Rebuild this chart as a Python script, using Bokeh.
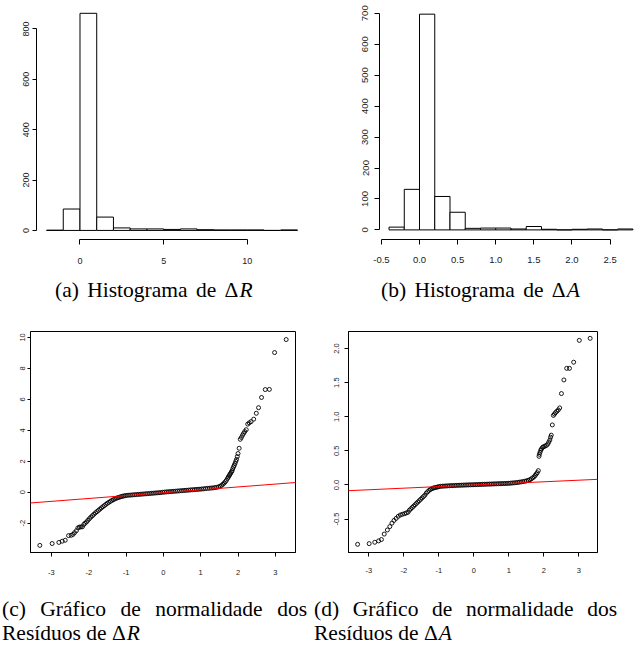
from bokeh.plotting import figure
from bokeh.models import FixedTicker, Slope, Div, Range1d
from bokeh.layouts import column, row
from bokeh.embed import file_html
from bokeh.resources import INLINE

# ---------------- data ----------------
# (a) histogram of Delta R
hist_r_left = [-2, -1, 0, 1, 2, 3, 4, 5, 6, 7, 8, 9, 10, 11, 12]
hist_r_right = [-1, 0, 1, 2, 3, 4, 5, 6, 7, 8, 9, 10, 11, 12, 13]
hist_r_counts = [1, 85, 862, 53, 10, 6, 6, 4, 6, 3, 2, 2, 2, 0, 2]
hist_r_xticks = [0, 5, 10]
hist_r_xlabels = ["0", "5", "10"]
hist_r_yticks = [0, 200, 400, 600, 800]
hist_r_ylabels = ["0", "200", "400", "600", "800"]

# (b) histogram of Delta A
hist_a_left = [-0.4, -0.2, 0.0, 0.2, 0.4, 0.6, 0.8, 1.0, 1.2, 1.4, 1.6, 1.8, 2.0, 2.2, 2.4, 2.6]
hist_a_right = [-0.2, 0.0, 0.2, 0.4, 0.6, 0.8, 1.0, 1.2, 1.4, 1.6, 1.8, 2.0, 2.2, 2.4, 2.6, 2.8]
hist_a_counts = [9, 131, 697, 108, 57, 5, 6, 6, 3, 11, 2, 0, 2, 3, 0, 3]
hist_a_xticks = [-0.5, 0.0, 0.5, 1.0, 1.5, 2.0, 2.5]
hist_a_xlabels = ["-0.5", "0.0", "0.5", "1.0", "1.5", "2.0", "2.5"]
hist_a_yticks = [0, 100, 200, 300, 400, 500, 600, 700]
hist_a_ylabels = ["0", "100", "200", "300", "400", "500", "600", "700"]

# (c) normal QQ plot of residuals of Delta R
qq_r_theo = [
    -3.31, -2.98, -2.80, -2.71, -2.63, -2.54, -2.47, -2.42, -2.38, -2.33, -2.29, -2.25,
    -2.21, -2.17, -2.13, -2.10, -2.06, -2.02, -1.98, -1.94, -1.90, -1.86, -1.82, -1.78,
    -1.74, -1.70, -1.66, -1.62, -1.58, -1.54, -1.50, -1.46, -1.42, -1.38, -1.34, -1.30,
    -1.26, -1.22, -1.18, -1.14, -1.10, -1.06, -1.02, -0.97, -0.92, -0.87, -0.82, -0.77,
    -0.72, -0.67, -0.62, -0.57, -0.52, -0.47, -0.42, -0.37, -0.32, -0.27, -0.22, -0.17,
    -0.12, -0.07, -0.02, 0.03, 0.08, 0.13, 0.18, 0.23, 0.28, 0.33, 0.38, 0.43, 0.48,
    0.53, 0.58, 0.63, 0.68, 0.73, 0.78, 0.83, 0.88, 0.93, 0.98, 1.03, 1.08, 1.13, 1.18,
    1.23, 1.28, 1.33, 1.38, 1.43, 1.48, 1.52, 1.56, 1.60, 1.63, 1.66, 1.69, 1.72, 1.74,
    1.76, 1.78, 1.80, 1.82, 1.84, 1.86, 1.88, 1.90, 1.92, 1.94, 1.96, 1.98, 2.00, 2.03,
    2.06, 2.09, 2.12, 2.15, 2.18, 2.22, 2.26, 2.30, 2.35, 2.42, 2.49, 2.55, 2.63, 2.73,
    2.84, 2.98, 3.29,
]
qq_r_sample = [
    -3.43, -3.31, -3.24, -3.16, -3.10, -2.80, -2.78, -2.72, -2.61, -2.48, -2.30, -2.25,
    -2.24, -2.23, -2.08, -2.00, -1.92, -1.81, -1.70, -1.60, -1.51, -1.42, -1.33, -1.25,
    -1.17, -1.09, -1.01, -0.93, -0.86, -0.78, -0.71, -0.65, -0.59, -0.53, -0.48, -0.43,
    -0.39, -0.35, -0.32, -0.29, -0.26, -0.24, -0.22, -0.20, -0.19, -0.18, -0.17, -0.16,
    -0.15, -0.14, -0.13, -0.12, -0.11, -0.10, -0.09, -0.08, -0.07, -0.06, -0.05, -0.04,
    -0.03, -0.02, 0.00, 0.01, 0.02, 0.03, 0.04, 0.05, 0.06, 0.07, 0.08, 0.09, 0.10,
    0.11, 0.12, 0.13, 0.14, 0.15, 0.16, 0.17, 0.18, 0.19, 0.20, 0.21, 0.22, 0.24, 0.25,
    0.26, 0.27, 0.28, 0.30, 0.32, 0.35, 0.39, 0.45, 0.52, 0.60, 0.68, 0.78, 0.90, 0.98,
    1.06, 1.14, 1.22, 1.30, 1.38, 1.52, 1.64, 1.74, 1.86, 2.00, 2.12, 2.30, 2.50, 2.84,
    3.42, 3.54, 3.68, 3.80, 3.92, 4.04, 4.40, 4.48, 4.56, 4.72, 5.10, 5.46, 6.12, 6.63,
    6.64, 9.02, 9.86,
]
qq_r_line_intercept = -0.03
qq_r_line_slope = 0.186
qq_r_yticks = [-2, 0, 2, 4, 6, 8, 10]
qq_r_ylabels = ["-2", "0", "2", "4", "6", "8", "10"]

# (d) normal QQ plot of residuals of Delta A
qq_a_theo = [
    -3.32, -2.99, -2.83, -2.72, -2.64, -2.56, -2.47, -2.40, -2.34, -2.28, -2.22, -2.16,
    -2.10, -2.04, -1.98, -1.93, -1.88, -1.84, -1.80, -1.76, -1.72, -1.68, -1.64, -1.60,
    -1.56, -1.52, -1.48, -1.44, -1.40, -1.36, -1.32, -1.28, -1.24, -1.20, -1.16, -1.12,
    -1.08, -1.04, -1.00, -0.95, -0.90, -0.85, -0.80, -0.75, -0.70, -0.65, -0.60, -0.55,
    -0.50, -0.45, -0.40, -0.35, -0.30, -0.25, -0.20, -0.15, -0.10, -0.05, 0.00, 0.05,
    0.10, 0.15, 0.20, 0.25, 0.30, 0.35, 0.40, 0.45, 0.50, 0.55, 0.60, 0.65, 0.70, 0.75,
    0.80, 0.85, 0.90, 0.95, 1.00, 1.05, 1.10, 1.15, 1.20, 1.25, 1.30, 1.35, 1.40, 1.45,
    1.50, 1.55, 1.60, 1.64, 1.68, 1.72, 1.75, 1.78, 1.81, 1.84, 1.86, 1.87, 1.89, 1.91,
    1.93, 1.96, 1.99, 2.03, 2.07, 2.11, 2.14, 2.17, 2.19, 2.21, 2.24, 2.27, 2.30, 2.33,
    2.37, 2.41, 2.45, 2.50, 2.57, 2.65, 2.73, 2.85, 3.01, 3.32,
]
qq_a_sample = [
    -0.87, -0.86, -0.84, -0.82, -0.80, -0.72, -0.66, -0.61, -0.56, -0.52, -0.49, -0.46,
    -0.44, -0.43, -0.42, -0.41, -0.40, -0.37, -0.35, -0.33, -0.31, -0.29, -0.27, -0.25,
    -0.23, -0.21, -0.19, -0.17, -0.15, -0.12, -0.10, -0.08, -0.065, -0.055, -0.045, -0.04,
    -0.035, -0.03, -0.025, -0.02, -0.018, -0.016, -0.015, -0.013, -0.012, -0.010, -0.009, -0.008,
    -0.006, -0.005, -0.004, -0.003, -0.002, -0.001, 0.000, 0.001, 0.002, 0.003, 0.004, 0.005,
    0.006, 0.007, 0.008, 0.009, 0.010, 0.011, 0.012, 0.013, 0.014, 0.015, 0.016, 0.017, 0.018, 0.019,
    0.020, 0.021, 0.022, 0.023, 0.025, 0.027, 0.029, 0.031, 0.034, 0.037, 0.041, 0.045, 0.049, 0.054,
    0.060, 0.068, 0.078, 0.090, 0.105, 0.12, 0.14, 0.16, 0.18, 0.21, 0.42, 0.45, 0.48, 0.51,
    0.53, 0.55, 0.56, 0.57, 0.58, 0.60, 0.63, 0.66, 0.70, 0.73, 0.88, 1.02, 1.04, 1.06,
    1.08, 1.10, 1.13, 1.34, 1.54, 1.71, 1.71, 1.80, 2.12, 2.15,
]
qq_a_line_intercept = 0.0
qq_a_line_slope = 0.0234
qq_a_yticks = [-0.5, 0.0, 0.5, 1.0, 1.5, 2.0]
qq_a_ylabels = ["-0.5", "0.0", "0.5", "1.0", "1.5", "2.0"]

qq_xticks = [-3, -2, -1, 0, 1, 2, 3]
qq_xlabels = ["-3", "-2", "-1", "0", "1", "2", "3"]

MATH_R = '<span style="white-space:nowrap">\u0394<i style="margin-left:1px">R</i></span>'
MATH_A = '<span style="white-space:nowrap">\u0394<i style="margin-left:1px">A</i></span>'
captions = [
    "(a) Histograma de " + MATH_R,
    "(b) Histograma de " + MATH_A,
    "<span>(c) Gr\u00e1fico de normalidade dos</span> <span>Res\u00edduos de</span> " + MATH_R,
    "<span>(d) Gr\u00e1fico de normalidade dos</span> <span>Res\u00edduos de</span> " + MATH_A,
]

# ---------------- styling helpers ----------------
AXIS_FONT = "Liberation Sans"
TEXT_COLOR = "#1a1a1a"


def make_fig(w, h, xr, yr, left, right, top, bottom, outline):
    p = figure(width=w, height=h, x_range=Range1d(*xr), y_range=Range1d(*yr),
               output_backend="svg", toolbar_location=None, tools="",
               min_border_left=left, min_border_right=right,
               min_border_top=top, min_border_bottom=bottom)
    p.xgrid.visible = False
    p.ygrid.visible = False
    p.background_fill_color = "white"
    p.border_fill_color = "white"
    p.outline_line_color = "black" if outline else None
    p.outline_line_width = 1
    return p


def style_axis(ax, ticks, labels, size, bounds, tick_out, standoff, vertical=False):
    ax.ticker = FixedTicker(ticks=ticks)
    ax.major_label_overrides = {t: l for t, l in zip(ticks, labels)}
    ax.major_label_text_font = AXIS_FONT
    ax.major_label_text_font_size = size
    ax.major_label_text_color = TEXT_COLOR
    ax.axis_line_color = "black"
    ax.axis_line_width = 1
    ax.major_tick_line_color = "black"
    ax.major_tick_out = tick_out
    ax.major_tick_in = 0
    ax.minor_tick_line_color = None
    ax.major_label_standoff = standoff
    if bounds is not None:
        ax.bounds = bounds
    if vertical:
        ax.major_label_orientation = "vertical"


# ---------------- (a) ----------------
pa = make_fig(311, 278, (-2.6, 13.6), (-36, 893), 36, 4, 0, 38, False)
pa.quad(left=hist_r_left, right=hist_r_right, top=hist_r_counts, bottom=0,
        fill_color="white", line_color="black", line_width=1)
style_axis(pa.xaxis[0], hist_r_xticks, hist_r_xlabels, "9px", (0, 10), 5, 13)
style_axis(pa.yaxis[0], hist_r_yticks, hist_r_ylabels, "9px", (0, 800), 4, 3, vertical=True)

# ---------------- (b) ----------------
pb = make_fig(326, 278, (-0.525, 2.86), (-31, 725), 68, 0, 5, 39, False)
pb.quad(left=hist_a_left, right=hist_a_right, top=hist_a_counts, bottom=0,
        fill_color="white", line_color="black", line_width=1)
style_axis(pb.xaxis[0], hist_a_xticks, hist_a_xlabels, "9.5px", (-0.5, 2.5), 5, 12)
style_axis(pb.yaxis[0], hist_a_yticks, hist_a_ylabels, "9.5px", (0, 700), 5, 6, vertical=True)

# ---------------- (c) ----------------
pc = make_fig(311, 289, (-3.56, 3.54), (-3.89, 10.38), 30, 16, 15, 40, True)
pc.scatter(qq_r_theo, qq_r_sample, marker="circle", size=4, fill_color=None,
           line_color="black", line_width=0.9)
pc.add_layout(Slope(gradient=qq_r_line_slope, y_intercept=qq_r_line_intercept,
                    line_color="red", line_width=1))
style_axis(pc.xaxis[0], qq_xticks, qq_xlabels, "7.5px", None, 4, 13)
style_axis(pc.yaxis[0], qq_r_yticks, qq_r_ylabels, "7.5px", None, 3, 2, vertical=True)

# ---------------- (d) ----------------
pd_ = make_fig(326, 289, (-3.58, 3.53), (-0.99, 2.25), 37, 40, 23, 45, True)
pd_.scatter(qq_a_theo, qq_a_sample, marker="circle", size=4, fill_color=None,
            line_color="black", line_width=0.9)
pd_.add_layout(Slope(gradient=qq_a_line_slope, y_intercept=qq_a_line_intercept,
                     line_color="red", line_width=1))
style_axis(pd_.xaxis[0], qq_xticks, qq_xlabels, "7.5px", None, 4, 11)
style_axis(pd_.yaxis[0], qq_a_yticks, qq_a_ylabels, "7.5px", None, 4, 5, vertical=True)

# ---------------- captions ----------------
CAP = ("font-family:'Liberation Serif','Times New Roman',serif;font-size:21.5px;"
       "line-height:24px;color:#000;margin:0;padding:0;")


def cap_div(text, w, h, extra):
    return Div(text=f'<div style="{CAP}{extra}">{text}</div>', width=w, height=h,
               margin=(0, 0, 0, 0))


da = cap_div(captions[0], 311, 30, "padding-left:55px;white-space:nowrap;word-spacing:3px;")
db = cap_div(captions[1], 326, 30, "padding-left:70px;white-space:nowrap;word-spacing:3px;")
dc = cap_div(captions[2], 311, 48, "margin-left:2px;width:305px;text-align:justify;")
dd = cap_div(captions[3], 326, 48, "margin-left:3px;width:303px;text-align:justify;")

layout = column(row(pa, pb), row(da, db), row(pc, pd_), row(dc, dd))

open("out.html", "w").write(file_html(layout, INLINE))
